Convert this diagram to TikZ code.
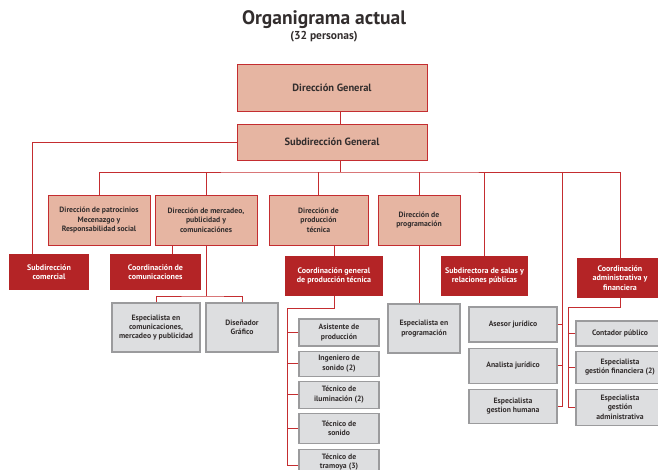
\documentclass[tikz,border=0pt]{standalone}
\usepackage{fontspec}
\setmainfont{PT Sans}
\usetikzlibrary{positioning}
\definecolor{linered}{RGB}{196,45,48}
\definecolor{boxsalmon}{RGB}{230,181,162}
\definecolor{boxdark}{RGB}{180,36,38}
\definecolor{boxgray}{RGB}{221,222,224}
\definecolor{edgegray}{RGB}{155,155,157}
\definecolor{textdark}{RGB}{50,45,45}

\begin{document}
\begin{tikzpicture}[x=1pt,y=-1pt,node distance=4pt,
	base/.style={inner sep=0pt,align=center,font=\bfseries\fontsize{7.7}{9.3}\selectfont},
	upper/.style={base,draw=linered,line width=0.9pt,fill=boxsalmon,text=textdark},
	coord/.style={base,fill=boxdark,text=white,font=\bfseries\fontsize{8}{9.3}\selectfont},
	staff/.style={base,draw=edgegray,line width=1.1pt,fill=boxgray,text=textdark},
	link/.style={draw=linered,line width=0.9pt}]
\useasboundingbox (0,0) rectangle (658,470);
\clip (0,0) rectangle (658,470);
\node[font=\bfseries\fontsize{19.5}{22}\selectfont,text=textdark] (title) at (324,20) {Organigrama actual};
\node[font=\bfseries\fontsize{11.5}{13}\selectfont,text=textdark] (count) at (324,37) {(32 personas)};

\node[upper,minimum width=190pt,minimum height=47pt,font=\bfseries\fontsize{10.5}{12}\selectfont] (dir_gen) at (332,87.5) {Dirección General};
\node[upper,minimum width=190pt,minimum height=36pt,font=\bfseries\fontsize{10.5}{12}\selectfont] (sub_gen) at (332,142)  {Subdirección General};

\node[upper,minimum width=102pt,minimum height=50pt] (dir_pat) at (99,220)    {Dirección de patrocinios\\Mecenazgo y\\Responsabilidad social};
\node[upper,minimum width=102pt,minimum height=50pt] (dir_mer) at (206,220)   {Dirección de mercadeo,\\publicidad y\\comunicaciónes};
\node[upper,minimum width=99pt,minimum height=50pt]  (dir_pro) at (318.5,220) {Dirección de\\producción\\técnica};
\node[upper,minimum width=82pt,minimum height=50pt]  (dir_prg) at (419,220)   {Dirección de\\programación};

\node[coord,minimum width=80pt,minimum height=36pt] (sub_com) at (49,272)    {Subdirección\\comercial};
\node[coord,minimum width=91pt,minimum height=36pt] (coo_com) at (155.5,272) {Coordinación de\\comunicaciones};
\node[coord,minimum width=98pt,minimum height=40pt] (coo_pro) at (334,276)   {Coordinación general\\de producción técnica};
\node[coord,minimum width=87pt,minimum height=40pt] (sub_sal) at (484.5,276) {Subdirectora de salas y\\relaciones públicas};
\node[coord,minimum width=86pt,minimum height=40pt] (coo_adm) at (620,278)   {Coordinación\\administrativa y\\financiera};

\node[staff,minimum width=88pt,minimum height=49pt] (esp_com) at (156,327.5) {Especialista en\\comunicaciones,\\mercadeo y publicidad};
\node[staff,minimum width=72pt,minimum height=49pt] (dis_gra) at (242,327.5) {Diseñador\\Gráfico};
\node[staff,minimum width=72pt,minimum height=49pt] (esp_prg) at (424,328.5) {Especialista en\\programación};

\node[staff,minimum width=80pt,minimum height=27pt] (asi_pro) at (339,332.5)            {Asistente de\\producción};
\node[staff,minimum width=80pt,minimum height=25pt] (ing_son) [below=of asi_pro]        {Ingeniero de\\sonido (2)};
\node[staff,minimum width=80pt,minimum height=27pt] (tec_ilu) [below=of ing_son]        {Técnico de\\iluminación (2)};
\node[staff,minimum width=80pt,minimum height=30pt] (tec_son) [below=of tec_ilu]        {Técnico de\\sonido};
\node[staff,minimum width=80pt,minimum height=26pt] (tec_tra) [below=5pt of tec_son]    {Técnico de\\tramoya (3)};

\node[staff,minimum width=88pt,minimum height=35pt] (ase_jur) at (513,324.5)            {Asesor jurídico};
\node[staff,minimum width=88pt,minimum height=35pt] (ana_jur) [below=5pt of ase_jur]    {Analista jurídico};
\node[staff,minimum width=88pt,minimum height=34pt] (esp_hum) [below=5pt of ana_jur]    {Especialista\\gestion humana};

\node[staff,minimum width=88pt,minimum height=25pt] (con_pub) at (620,333.5)            {Contador público};
\node[staff,minimum width=88pt,minimum height=32pt] (esp_fin) [below=of con_pub]        {Especialista\\gestión financiera (2)};
\node[staff,minimum width=88pt,minimum height=36pt] (esp_adm) [below=5pt of esp_fin]    {Especialista\\gestión\\administrativa};

\coordinate (bus)      at (340,172);
\coordinate (jur_bus)  at (562,172);
\coordinate (mer_join) at (206,296);
\coordinate (tec_bus)  at (287,308);
\coordinate (adm_bus)  at (568,307);

\draw[link] (dir_gen.south -| bus) -- (sub_gen.north -| bus)
		(sub_gen.south -| bus) -- (bus)
		(sub_gen.west) -| ([xshift=-17pt]sub_com.north)
		(dir_pat.north) |- (bus) -| (coo_adm.north);
\foreach \n in {dir_mer,dir_pro,dir_prg,sub_sal}
	\draw[link] (\n.north) -- (\n.north |- bus);
\draw[link] ([xshift=17pt]coo_com.north) -- ([xshift=17pt]coo_com.north |- dir_mer.south)
		(dir_mer.south) -- (mer_join)
		(esp_com.north) |- (mer_join) -| (dis_gra.north)
		(coo_pro.north) -- (coo_pro.north |- dir_pro.south)
		(dir_prg.south) -- (dir_prg.south |- esp_prg.north)
		(coo_pro.south) |- (tec_bus) |- ([yshift=-3pt]tec_tra.west)
		(jur_bus) |- (esp_hum.east)
		(coo_adm.south) |- (adm_bus) |- (esp_adm.west);
\foreach \n in {asi_pro,ing_son,tec_ilu,tec_son}
	\draw[link] (\n.west) -- (\n.west -| tec_bus);
\foreach \n in {ase_jur,ana_jur}
	\draw[link] (\n.east) -- (\n.east -| jur_bus);
\foreach \n in {con_pub,esp_fin}
	\draw[link] (\n.west) -- (\n.west -| adm_bus);
\end{tikzpicture}
\end{document}
